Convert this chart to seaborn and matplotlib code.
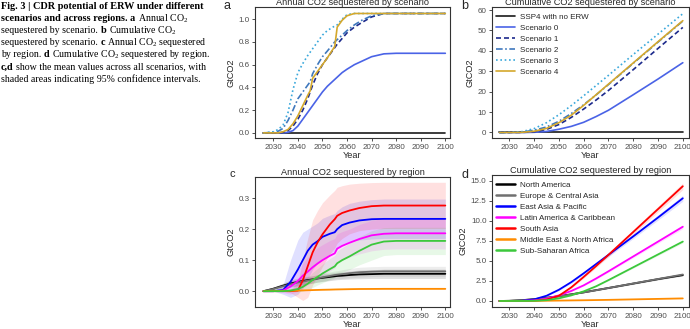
import matplotlib
matplotlib.use("Agg")
import matplotlib.pyplot as plt
import numpy as np
import pandas as pd
import seaborn as sns

# ---------------- data ----------------
years_a = [2026, 2030, 2032, 2034, 2036, 2038, 2040, 2042, 2044, 2045, 2046, 2048, 2050,
           2052, 2055, 2056, 2058, 2060, 2063, 2066, 2070, 2075, 2080, 2090, 2100]
ssp4_annual = [0.0] * 25
s0_annual = [0, 0, 0, 0, 0.005, 0.02, 0.06, 0.12, 0.18, 0.21, 0.24, 0.30, 0.36,
             0.41, 0.47, 0.49, 0.53, 0.56, 0.60, 0.63, 0.67, 0.695, 0.70, 0.70, 0.70]
s1_annual = [0, 0, 0, 0.005, 0.02, 0.06, 0.12, 0.20, 0.30, 0.36, 0.42, 0.52, 0.60,
             0.66, 0.75, 0.78, 0.83, 0.88, 0.93, 0.97, 1.02, 1.05, 1.05, 1.05, 1.05]
s2_annual = [0, 0.005, 0.015, 0.04, 0.11, 0.20, 0.30, 0.36, 0.42, 0.45, 0.52, 0.60, 0.67,
             0.72, 0.80, 0.82, 0.86, 0.90, 0.95, 0.99, 1.03, 1.05, 1.05, 1.05, 1.05]
s3_annual = [0, 0.01, 0.03, 0.07, 0.18, 0.38, 0.53, 0.61, 0.68, 0.71, 0.74, 0.80, 0.86,
             0.90, 0.94, 0.95, 1.00, 1.04, 1.05, 1.05, 1.05, 1.05, 1.05, 1.05, 1.05]
s4_annual = [0, 0, 0, 0.01, 0.03, 0.08, 0.15, 0.24, 0.33, 0.37, 0.48, 0.54, 0.60,
             0.66, 0.76, 0.93, 0.99, 1.03, 1.05, 1.05, 1.05, 1.05, 1.05, 1.05, 1.05]

years_b = [2026, 2030, 2035, 2040, 2045, 2050, 2055, 2060, 2065, 2070, 2080, 2090, 2100]
ssp4_cum = [0.0] * 13
s0_cum = [0, 0, 0, 0.1, 0.5, 1.6, 3.0, 5.0, 7.8, 10.9, 18.5, 26.2, 34.2]
s1_cum = [0, 0, 0.03, 0.35, 1.5, 3.9, 7.4, 11.5, 15.9, 20.6, 30.8, 41.2, 51.5]
s2_cum = [0, 0.02, 0.2, 1.1, 2.7, 5.5, 9.3, 13.6, 18.4, 23.5, 33.9, 44.3, 54.6]
s3_cum = [0, 0.05, 0.4, 1.9, 4.8, 8.7, 13.2, 18.0, 23.0, 28.0, 38.2, 48.2, 58.2]
s4_cum = [0, 0, 0.05, 0.6, 2.0, 4.8, 8.5, 13.3, 18.5, 23.7, 34.1, 44.5, 54.8]

scenarios = ["SSP4 with no ERW", "Scenario 0", "Scenario 1", "Scenario 2", "Scenario 3", "Scenario 4"]

years_c = [2026, 2030, 2034, 2037, 2040, 2042, 2044, 2046, 2048, 2050, 2053, 2055, 2056,
           2058, 2061, 2065, 2070, 2075, 2080, 2100]
na_annual = [0, 0.008, 0.018, 0.025, 0.03, 0.033, 0.036, 0.038, 0.041, 0.043, 0.046, 0.048, 0.049,
             0.05, 0.052, 0.054, 0.055, 0.056, 0.056, 0.056]
eu_annual = [0, 0.007, 0.016, 0.022, 0.028, 0.031, 0.034, 0.037, 0.041, 0.045, 0.049, 0.052, 0.053,
             0.055, 0.058, 0.061, 0.063, 0.064, 0.064, 0.064]
ea_annual = [0, 0, 0.004, 0.03, 0.07, 0.10, 0.13, 0.15, 0.161, 0.175, 0.185, 0.19, 0.20,
             0.213, 0.221, 0.228, 0.232, 0.233, 0.233, 0.233]
la_annual = [0, 0, 0.002, 0.015, 0.033, 0.05, 0.063, 0.077, 0.089, 0.10, 0.114, 0.122, 0.137,
             0.146, 0.156, 0.168, 0.18, 0.185, 0.1865, 0.1865]
sa_annual = [0, 0, 0, 0, 0.002, 0.035, 0.08, 0.125, 0.157, 0.183, 0.215, 0.232, 0.243,
             0.252, 0.26, 0.268, 0.274, 0.276, 0.276, 0.276]
me_annual = [0, 0.0005, 0.001, 0.0015, 0.002, 0.0025, 0.003, 0.0035, 0.004, 0.0045, 0.005, 0.0055, 0.0057,
             0.006, 0.0065, 0.007, 0.0072, 0.0075, 0.0075, 0.0075]
ssa_annual = [0, 0, 0, 0.002, 0.007, 0.014, 0.024, 0.036, 0.046, 0.057, 0.071, 0.08, 0.09,
              0.10, 0.112, 0.13, 0.15, 0.16, 0.162, 0.162]

na_lo = [0, 0.003, 0.01, 0.014, 0.018, 0.021, 0.024, 0.026, 0.029, 0.031, 0.034, 0.036, 0.037,
         0.038, 0.039, 0.04, 0.041, 0.041, 0.041, 0.041]
na_hi = [0, 0.013, 0.026, 0.036, 0.042, 0.045, 0.048, 0.05, 0.053, 0.055, 0.058, 0.06, 0.061,
         0.062, 0.065, 0.068, 0.069, 0.071, 0.071, 0.071]
eu_lo = [0, 0.003, 0.009, 0.013, 0.017, 0.02, 0.023, 0.026, 0.029, 0.032, 0.036, 0.039, 0.04,
         0.041, 0.043, 0.045, 0.047, 0.048, 0.048, 0.048]
eu_hi = [0, 0.011, 0.023, 0.031, 0.039, 0.042, 0.045, 0.048, 0.053, 0.058, 0.062, 0.065, 0.066,
         0.069, 0.073, 0.077, 0.079, 0.08, 0.08, 0.08]
ea_lo = [0, 0, -0.01, -0.02, -0.01, 0.01, 0.04, 0.07, 0.09, 0.105, 0.12, 0.13, 0.14,
         0.15, 0.16, 0.165, 0.168, 0.17, 0.17, 0.17]
ea_hi = [0, 0, 0.02, 0.10, 0.165, 0.19, 0.20, 0.21, 0.22, 0.235, 0.245, 0.25, 0.26,
         0.272, 0.283, 0.29, 0.295, 0.297, 0.297, 0.297]
la_lo = [0, 0, -0.005, -0.01, 0.0, 0.01, 0.02, 0.03, 0.04, 0.05, 0.065, 0.075, 0.09,
         0.10, 0.11, 0.12, 0.13, 0.135, 0.136, 0.136]
la_hi = [0, 0, 0.01, 0.04, 0.07, 0.09, 0.11, 0.125, 0.14, 0.15, 0.163, 0.17, 0.185,
         0.192, 0.20, 0.215, 0.228, 0.235, 0.237, 0.237]
sa_lo = [0, 0, 0, -0.005, -0.02, -0.03, -0.02, 0.02, 0.05, 0.08, 0.12, 0.14, 0.155,
         0.17, 0.185, 0.195, 0.20, 0.202, 0.202, 0.202]
sa_hi = [0, 0, 0, 0.005, 0.03, 0.10, 0.17, 0.23, 0.26, 0.285, 0.31, 0.325, 0.335,
         0.34, 0.345, 0.348, 0.35, 0.351, 0.351, 0.351]
me_lo = [0, 0, 0.0005, 0.001, 0.0015, 0.002, 0.0022, 0.0026, 0.003, 0.0034, 0.0038, 0.0042, 0.0044,
         0.0046, 0.005, 0.0054, 0.0056, 0.0058, 0.0058, 0.0058]
me_hi = [0, 0.001, 0.0015, 0.002, 0.0025, 0.003, 0.0038, 0.0044, 0.005, 0.0056, 0.0062, 0.0068, 0.007,
         0.0074, 0.008, 0.0086, 0.0088, 0.0092, 0.0092, 0.0092]
ssa_lo = [0, 0, 0, 0, -0.002, 0.0, 0.005, 0.012, 0.02, 0.027, 0.038, 0.045, 0.05,
          0.06, 0.07, 0.085, 0.10, 0.115, 0.118, 0.118]
ssa_hi = [0, 0, 0, 0.005, 0.018, 0.03, 0.045, 0.06, 0.073, 0.087, 0.105, 0.115, 0.13,
          0.14, 0.155, 0.175, 0.195, 0.205, 0.206, 0.206]

years_d = [2026, 2030, 2035, 2040, 2045, 2050, 2055, 2060, 2065, 2070, 2080, 2090, 2100]
na_cum = [0, 0.02, 0.1, 0.23, 0.4, 0.6, 0.83, 1.08, 1.35, 1.62, 2.17, 2.72, 3.22]
eu_cum = [0, 0.02, 0.09, 0.21, 0.38, 0.58, 0.82, 1.07, 1.34, 1.62, 2.18, 2.74, 3.30]
ea_cum = [0, 0, 0.02, 0.2, 0.65, 1.4, 2.35, 3.45, 4.6, 5.75, 8.05, 10.4, 12.8]
la_cum = [0, 0, 0.01, 0.07, 0.28, 0.7, 1.25, 1.95, 2.8, 3.7, 5.55, 7.4, 9.25]
sa_cum = [0, 0, 0, 0.02, 0.17, 0.65, 1.7, 3.0, 4.35, 5.75, 8.6, 11.45, 14.3]
me_cum = [0, 0, 0.005, 0.015, 0.03, 0.05, 0.07, 0.09, 0.115, 0.14, 0.2, 0.26, 0.32]
ssa_cum = [0, 0, 0, 0.02, 0.1, 0.33, 0.7, 1.2, 1.83, 2.6, 4.2, 5.8, 7.4]
na_cum_err = [0, 0.005, 0.01, 0.02, 0.03, 0.04, 0.05, 0.06, 0.07, 0.08, 0.09, 0.1, 0.11]
eu_cum_err = [0, 0.005, 0.01, 0.02, 0.03, 0.04, 0.05, 0.06, 0.07, 0.08, 0.09, 0.1, 0.11]
ea_cum_err = [0, 0, 0.01, 0.04, 0.08, 0.11, 0.14, 0.17, 0.2, 0.22, 0.27, 0.32, 0.37]
la_cum_err = [0, 0, 0, 0.01, 0.03, 0.05, 0.07, 0.09, 0.11, 0.13, 0.17, 0.21, 0.25]
sa_cum_err = [0, 0, 0, 0.01, 0.04, 0.08, 0.12, 0.16, 0.2, 0.24, 0.3, 0.36, 0.42]
me_cum_err = [0, 0, 0, 0, 0.002, 0.004, 0.006, 0.008, 0.01, 0.012, 0.016, 0.02, 0.024]
ssa_cum_err = [0, 0, 0, 0.01, 0.02, 0.03, 0.04, 0.05, 0.06, 0.08, 0.11, 0.14, 0.17]

regions = ["North America", "Europe & Central Asia", "East Asia & Pacific",
           "Latin America & Caribbean", "South Asia", "Middle East & North Africa",
           "Sub-Saharan Africa"]

# ---------------- style ----------------
sns.set_theme(style="white")
plt.rcParams["font.family"] = ["Liberation Sans", "DejaVu Sans"]
plt.rcParams["mathtext.fontset"] = "custom"
plt.rcParams["mathtext.rm"] = "Liberation Serif"
plt.rcParams["mathtext.it"] = "Liberation Serif:italic"
plt.rcParams["mathtext.bf"] = "Liberation Serif:bold"

scen_colors = {"SSP4 with no ERW": "#1a1a1a", "Scenario 0": "#4a63e6", "Scenario 1": "#1c2a8c",
               "Scenario 2": "#3f78bd", "Scenario 3": "#3aa8db", "Scenario 4": "#d4a82c"}
scen_dashes = {"SSP4 with no ERW": "", "Scenario 0": "", "Scenario 1": (3, 1.8),
               "Scenario 2": (4, 1.5, 1, 1.5), "Scenario 3": (1, 1.6), "Scenario 4": ""}
reg_colors = {"North America": "#000000", "Europe & Central Asia": "#707070",
              "East Asia & Pacific": "#0000ff", "Latin America & Caribbean": "#ff00ff",
              "South Asia": "#ff0000", "Middle East & North Africa": "#ff8c00",
              "Sub-Saharan Africa": "#3cc83c"}

W, H = 690, 329
fig = plt.figure(figsize=(W / 100, H / 100), dpi=100)
fig.patch.set_facecolor("white")


def px_axes(l, t, r, b):
    return fig.add_axes([l / W, 1 - b / H, (r - l) / W, (b - t) / H])


ax_a = px_axes(255, 7, 450, 138)
ax_b = px_axes(492, 7, 689, 138)
ax_c = px_axes(255, 177, 450, 307)
ax_d = px_axes(492, 175, 689, 307)

TICK = 5.8
LAB = 6.6


def style_ax(ax, title, xlim):
    for s in ax.spines.values():
        s.set_visible(True)
        s.set_color("#333333")
        s.set_linewidth(0.8)
    ax.tick_params(axis="both", direction="out", length=2.5, width=0.6, color="#333333",
                   labelsize=TICK, labelcolor="#4d4d4d", pad=1.5, bottom=True, left=True)
    ax.set_xlim(*xlim)
    ax.set_xticks([2030, 2040, 2050, 2060, 2070, 2080, 2090, 2100])
    ax.set_xlabel("Year", fontsize=LAB, labelpad=0.5)
    ax.set_ylabel("GtCO2", fontsize=LAB, labelpad=2)
    ax.set_title(title, fontsize=LAB, pad=1.5)
    ax.grid(False)
    ax.set_facecolor("white")


XL_LEFT = (2022.55, 2101.9)
XL_RIGHT = (2023.0, 2102.5)

# ---- panel a
df_a = pd.DataFrame({
    "Year": years_a * 6,
    "Scenario": sum([[n] * len(years_a) for n in scenarios], []),
    "GtCO2": ssp4_annual + s0_annual + s1_annual + s2_annual + s3_annual + s4_annual,
})
sns.lineplot(data=df_a, x="Year", y="GtCO2", hue="Scenario", style="Scenario",
             palette=scen_colors, dashes=scen_dashes, estimator=None, linewidth=1.2,
             ax=ax_a, legend=False)
style_ax(ax_a, "Annual CO2 sequestered by scenario", XL_LEFT)
ax_a.set_ylim(-0.045, 1.107)
ax_a.set_yticks([0, 0.2, 0.4, 0.6, 0.8, 1.0])
ax_a.set_yticklabels(["0.0", "0.2", "0.4", "0.6", "0.8", "1.0"])

# ---- panel b
df_b = pd.DataFrame({
    "Year": years_b * 6,
    "Scenario": sum([[n] * len(years_b) for n in scenarios], []),
    "GtCO2": ssp4_cum + s0_cum + s1_cum + s2_cum + s3_cum + s4_cum,
})
sns.lineplot(data=df_b, x="Year", y="GtCO2", hue="Scenario", style="Scenario",
             palette=scen_colors, dashes=scen_dashes, estimator=None, linewidth=1.2,
             ax=ax_b, legend="full")
style_ax(ax_b, "Cumulative CO2 sequestered by scenario", XL_RIGHT)
ax_b.set_ylim(-2.7, 61.5)
ax_b.set_yticks([0, 10, 20, 30, 40, 50, 60])
sns.move_legend(ax_b, "upper left", bbox_to_anchor=(0.022, 0.955), frameon=False, title=None,
                fontsize=TICK, handlelength=2.3, handletextpad=0.6, labelspacing=0.42,
                borderaxespad=0, borderpad=0)

for ax in (ax_a, ax_b):
    for ln in ax.get_lines():
        ln.set_dash_capstyle("butt")

# ---- panel c
mean_c = [na_annual, eu_annual, ea_annual, la_annual, sa_annual, me_annual, ssa_annual]
lo_c = [na_lo, eu_lo, ea_lo, la_lo, sa_lo, me_lo, ssa_lo]
hi_c = [na_hi, eu_hi, ea_hi, la_hi, sa_hi, me_hi, ssa_hi]
df_c = pd.DataFrame({
    "Year": years_c * 7,
    "Region": sum([[r] * len(years_c) for r in regions], []),
    "GtCO2": sum(mean_c, []),
})
for r, lo, hi in zip(regions, lo_c, hi_c):
    ax_c.fill_between(years_c, lo, hi, color=reg_colors[r], alpha=0.12, linewidth=0)
sns.lineplot(data=df_c, x="Year", y="GtCO2", hue="Region", palette=reg_colors,
             estimator=None, linewidth=1.3, ax=ax_c, legend=False)
style_ax(ax_c, "Annual CO2 sequestered by region", XL_LEFT)
ax_c.set_ylim(-0.051, 0.368)
ax_c.set_yticks([0, 0.1, 0.2, 0.3])
ax_c.set_yticklabels(["0.0", "0.1", "0.2", "0.3"])

# ---- panel d
mean_d = [na_cum, eu_cum, ea_cum, la_cum, sa_cum, me_cum, ssa_cum]
err_d = [na_cum_err, eu_cum_err, ea_cum_err, la_cum_err, sa_cum_err, me_cum_err, ssa_cum_err]
df_d = pd.DataFrame({
    "Year": years_d * 7,
    "Region": sum([[r] * len(years_d) for r in regions], []),
    "GtCO2": sum(mean_d, []),
})
for r, m, e in zip(regions, mean_d, err_d):
    m = np.array(m); e = np.array(e)
    ax_d.fill_between(years_d, m - e, m + e, color=reg_colors[r], alpha=0.12, linewidth=0)
sns.lineplot(data=df_d, x="Year", y="GtCO2", hue="Region", palette=reg_colors,
             estimator=None, linewidth=1.3, ax=ax_d, legend="full")
style_ax(ax_d, "Cumulative CO2 sequestered by region", XL_RIGHT)
ax_d.set_ylim(-0.75, 15.7)
ax_d.set_yticks([0, 2.5, 5, 7.5, 10, 12.5, 15])
ax_d.set_yticklabels(["0.0", "2.5", "5.0", "7.5", "10.0", "12.5", "15.0"])
sns.move_legend(ax_d, "upper left", bbox_to_anchor=(0.022, 0.955), frameon=False, title=None,
                fontsize=TICK, handlelength=2.3, handletextpad=0.6, labelspacing=0.42,
                borderaxespad=0, borderpad=0)
for h in ax_d.get_legend().get_lines():
    h.set_linewidth(1.8)

# ---- panel letters
fig.text(223 / W, 1 - 9 / H, "a", fontsize=9)
fig.text(461 / W, 1 - 9 / H, "b", fontsize=9)
fig.text(230 / W, 1 - 177 / H, "c", fontsize=8)
fig.text(462 / W, 1 - 178 / H, "d", fontsize=9)

# ---- caption
cap_lines = [
    [("Fig. 3 | CDR potential of ERW under different", True)],
    [("scenarios and across regions.", True), ("a", True), ("Annual CO$_2$", False)],
    [("sequestered by scenario.", False), ("b", True), ("Cumulative CO$_2$", False)],
    [("sequestered by scenario.", False), ("c", True), ("Annual CO$_2$ sequestered", False)],
    [("by region.", False), ("d", True), ("Cumulative CO$_2$ sequestered by region.", False)],
    [("c,d", True), ("show the mean values across all scenarios, with", False)],
    [("shaded areas indicating 95% confidence intervals.", False)],
]
CAP_REG = 7.1
CAP_BOLD = 7.4
renderer = fig.canvas.get_renderer()


def tw(s, bold):
    t = fig.text(0, 0, s, fontsize=CAP_BOLD if bold else CAP_REG, family="Liberation Serif",
                 fontweight="bold" if bold else "normal")
    w = t.get_window_extent(renderer).width
    t.remove()
    return w


space_w = tw("x x", False) - tw("xx", False)
for i, line in enumerate(cap_lines):
    x = 1.0
    yb = 9.0 + i * 12.1
    for s, bold in line:
        t = fig.text(x / W, 1 - yb / H, s, fontsize=CAP_BOLD if bold else CAP_REG,
                     family="Liberation Serif", fontweight="bold" if bold else "normal",
                     va="baseline", color="black")
        x += t.get_window_extent(renderer).width + space_w

fig.savefig("out.png", dpi=100, facecolor="white")
